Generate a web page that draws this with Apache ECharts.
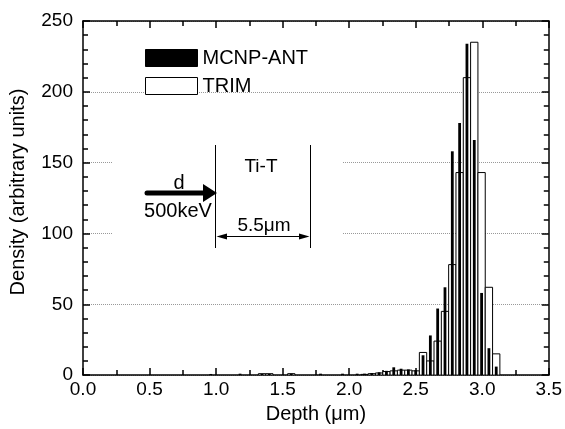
<!DOCTYPE html>
<html>
<head>
<meta charset="utf-8">
<script src="https://cdn.jsdelivr.net/npm/echarts@6/dist/echarts.min.js"></script>
<style>
html,body{margin:0;padding:0;background:#fff;}
#chart{width:565px;height:429px;}
</style>
</head>
<body>
<div id="chart"></div>
<script>
// ---- data ----
const depthBins = [0.96, 1.015, 1.07, 1.125, 1.18, 1.235, 1.29, 1.345, 1.4, 1.455,
  1.51, 1.565, 1.62, 1.675, 1.73, 1.785, 1.84, 1.895, 1.95, 2.005,
  2.06, 2.115, 2.17, 2.225, 2.28, 2.335, 2.39, 2.445, 2.5, 2.555,
  2.61, 2.665, 2.72, 2.775, 2.83, 2.885, 2.94, 2.995, 3.05, 3.105];
const trimValues = [0, 0, 0, 0, 0, 0, 0, 1, 1, 0,
  0, 1, 0, 0, 0, 0, 0, 0, 0, 0,
  0, 0.5, 1, 1.5, 2.5, 3, 3.5, 3.5, 3, 16,
  10, 24, 45, 78, 143, 210, 235, 143, 62, 15];
const mcnpValues = [0.8, 0, 0, 0, 1, 0, 0, 0.8, 0.8, 0,
  0, 1, 0, 0, 0, 1, 0, 0, 1, 0,
  1, 1, 1.5, 2, 3, 5.5, 4.5, 4, 3.5, 14,
  28, 47, 62, 158, 178, 234, 166, 58, 19, 6];
const seriesNames = ['MCNP-ANT', 'TRIM'];
const xAxisRange = [0, 3.5, 0.5];
const yAxisRange = [0, 250, 50];
const xTitle = 'Depth (\u03bcm)';
const yTitle = 'Density (arbitrary units)';

const FONT = '"Liberation Sans", Arial, sans-serif';
const TRIM_W = 0.055;
const MCNP_W = 0.021;

function barRenderer(w, style) {
  return function (params, api) {
    const x = api.value(0), v = api.value(1);
    if (!v) return null;
    const tl = api.coord([x - w / 2, v]);
    const br = api.coord([x + w / 2, 0]);
    return {
      type: 'rect',
      shape: { x: tl[0], y: tl[1], width: br[0] - tl[0], height: br[1] - tl[1] },
      style: style
    };
  };
}

const axisLineStyle = { color: '#000', width: 1.5 };
function xAxisDef(pos, showLabel) {
  return {
    type: 'value', position: pos, min: xAxisRange[0], max: xAxisRange[1], interval: xAxisRange[2],
    axisLine: { show: true, onZero: false, lineStyle: axisLineStyle },
    axisTick: { show: true, inside: true, length: 7, lineStyle: { color: '#000', width: 1.5 } },
    minorTick: { show: true, splitNumber: 2, length: 5, lineStyle: { color: '#000', width: 1.5 } },
    axisLabel: { show: showLabel, margin: 5, fontSize: 19, fontFamily: FONT, color: '#000',
      formatter: v => v.toFixed(1) },
    splitLine: { show: false },
    name: showLabel ? xTitle : '', nameLocation: 'middle', nameGap: 21,
    nameTextStyle: { fontSize: 20, fontFamily: FONT, color: '#000' }
  };
}
function yAxisDef(pos, showLabel) {
  return {
    type: 'value', position: pos, min: yAxisRange[0], max: yAxisRange[1], interval: yAxisRange[2],
    axisLine: { show: true, onZero: false, lineStyle: axisLineStyle },
    axisTick: { show: true, inside: true, length: 7, lineStyle: { color: '#000', width: 1.5 } },
    minorTick: { show: true, splitNumber: 5, length: 5, lineStyle: { color: '#000', width: 1.5 } },
    axisLabel: { show: showLabel, margin: 10, fontSize: 19, fontFamily: FONT, color: '#000' },
    splitLine: { show: showLabel, lineStyle: { color: '#999', type: 'dotted', width: 1 } },
    name: showLabel ? yTitle : '', nameLocation: 'middle', nameGap: 55,
    nameTextStyle: { fontSize: 20, fontFamily: FONT, color: '#000', padding: [0, 0, 0, 12] }
  };
}

const chart = echarts.init(document.getElementById('chart'), null, { renderer: 'canvas' });
const txt = { fontSize: 19, fontFamily: FONT, fill: '#000' };
const txtBig = { fontSize: 20, fontFamily: FONT, fill: '#000' };
chart.setOption({
  animation: false,
  backgroundColor: '#fff',
  grid: { left: 79, right: 13, top: 21, bottom: 50, containLabel: false },
  xAxis: [xAxisDef('bottom', true), xAxisDef('top', false)],
  yAxis: [yAxisDef('left', true), yAxisDef('right', false)],
  legend: {
    orient: 'vertical', left: 140, top: 43, itemWidth: 52, itemHeight: 17, itemGap: 8,
    textStyle: { fontSize: 20, fontFamily: FONT, color: '#000' },
    data: [
      { name: seriesNames[0], icon: 'rect', itemStyle: { color: '#000', borderColor: '#000', borderWidth: 1 } },
      { name: seriesNames[1], icon: 'rect', itemStyle: { color: '#fff', borderColor: '#000', borderWidth: 1 } }
    ]
  },
  graphic: [
    { type: 'rect', z: 1, shape: { x: 112, y: 140, width: 231, height: 110 }, style: { fill: '#fff' } },
    { type: 'line', z: 5, shape: { x1: 147, y1: 193, x2: 205, y2: 193 }, style: { stroke: '#000', lineWidth: 5, lineCap: 'round' } },
    { type: 'polygon', z: 5, shape: { points: [[203, 184], [217, 193], [203, 202]] }, style: { fill: '#000' } },
    { type: 'text', z: 5, x: 179, y: 183, style: Object.assign({ text: 'd', align: 'center', verticalAlign: 'middle' }, txtBig) },
    { type: 'text', z: 5, x: 178, y: 211, style: Object.assign({ text: '500keV', align: 'center', verticalAlign: 'middle' }, txtBig) },
    { type: 'line', z: 5, shape: { x1: 215.5, y1: 145, x2: 215.5, y2: 248 }, style: { stroke: '#000', lineWidth: 1 } },
    { type: 'line', z: 5, shape: { x1: 310.5, y1: 145, x2: 310.5, y2: 248 }, style: { stroke: '#000', lineWidth: 1 } },
    { type: 'text', z: 5, x: 261, y: 167, style: Object.assign({ text: 'Ti-T', align: 'center', verticalAlign: 'middle' }, txt) },
    { type: 'text', z: 5, x: 264, y: 226, style: Object.assign({ text: '5.5\u03bcm', align: 'center', verticalAlign: 'middle' }, txt) },
    { type: 'line', z: 5, shape: { x1: 220, y1: 236.5, x2: 306, y2: 236.5 }, style: { stroke: '#000', lineWidth: 1 } },
    { type: 'polygon', z: 5, shape: { points: [[216.5, 236.5], [227, 233.5], [227, 239.5]] }, style: { fill: '#000' } },
    { type: 'polygon', z: 5, shape: { points: [[309.5, 236.5], [299, 233.5], [299, 239.5]] }, style: { fill: '#000' } }
  ],
  series: [
    {
      name: seriesNames[1], type: 'custom', z: 2, clip: true,
      itemStyle: { color: '#fff', borderColor: '#000', borderWidth: 1 },
      renderItem: barRenderer(TRIM_W, { fill: '#fff', stroke: '#000', lineWidth: 1 }),
      encode: { x: 0, y: 1 },
      data: depthBins.map((d, i) => [d, trimValues[i]])
    },
    {
      name: seriesNames[0], type: 'custom', z: 3, clip: true,
      itemStyle: { color: '#000', borderColor: '#000', borderWidth: 1 },
      renderItem: barRenderer(MCNP_W, { fill: '#000' }),
      encode: { x: 0, y: 1 },
      data: depthBins.map((d, i) => [d, mcnpValues[i]])
    }
  ]
});
</script>
</body>
</html>
